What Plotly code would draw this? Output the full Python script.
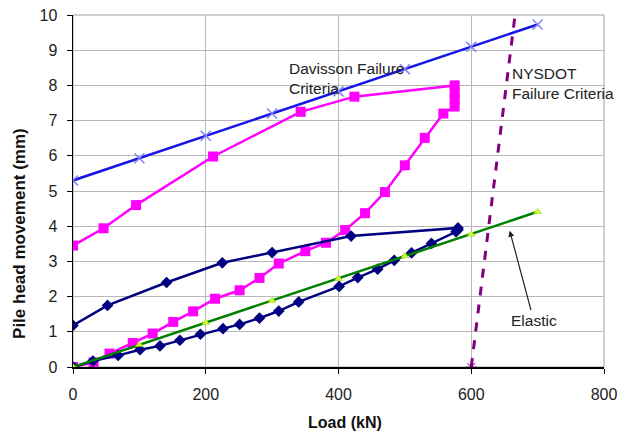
import plotly.graph_objects as go

# Davisson failure criteria
dav_x = [0, 100, 200, 300, 400, 500, 600, 700]
dav_y = [5.3, 5.93, 6.57, 7.2, 7.83, 8.46, 9.1, 9.73]

# Elastic line
ela_x = [0, 100, 200, 300, 400, 500, 600, 700]
ela_y = [0, 0.63, 1.26, 1.88, 2.51, 3.15, 3.77, 4.41]

# NYSDOT failure criteria
nys_x = [600, 666]
nys_y = [0, 10]

# Test 1 (magenta squares)
mag_x = [0, 31, 55, 90, 120, 151, 181, 214, 251, 281, 310, 350, 381, 410, 440, 470,
         500, 530, 558, 575, 575, 575, 575, 424, 343, 211, 95, 46, 0]
mag_y = [0, 0.13, 0.38, 0.68, 0.95, 1.28, 1.58, 1.94, 2.18, 2.53, 2.94, 3.29, 3.53,
         3.89, 4.37, 4.97, 5.73, 6.51, 7.2, 7.4, 7.6, 7.8, 8.0, 7.68, 7.25, 5.98,
         4.6, 3.94, 3.45]

# Test 2 (navy diamonds)
nav_x = [0, 30, 68, 101, 131, 161, 192, 226, 251, 281, 310, 340, 401, 429, 459, 484,
         510, 540, 577, 580, 580, 419, 300, 225, 141, 52, 0]
nav_y = [0, 0.17, 0.33, 0.49, 0.6, 0.76, 0.93, 1.09, 1.21, 1.39, 1.59, 1.85, 2.29,
         2.54, 2.78, 3.03, 3.24, 3.51, 3.84, 3.9, 3.95, 3.72, 3.25, 2.96, 2.4, 1.75, 1.18]

x_ticks = [0, 200, 400, 600, 800]
y_ticks = list(range(0, 11))

x_title = "Load (kN)"
y_title = "Pile head movement (mm)"

FONT = "Liberation Sans, Arial, sans-serif"
TXT = "#222222"

fig = go.Figure()

fig.add_trace(go.Scatter(x=dav_x, y=dav_y, mode="lines+markers",
                         line=dict(color="#1515e6", width=2.5),
                         marker=dict(symbol="x-thin", size=10,
                                     line=dict(color="#7f7fff", width=1.5))))
fig.add_trace(go.Scatter(x=mag_x, y=mag_y, mode="lines+markers",
                         line=dict(color="#ff00ff", width=2.5),
                         marker=dict(symbol="square", size=10, color="#ff00ff")))
fig.add_trace(go.Scatter(x=nav_x, y=nav_y, mode="lines+markers",
                         line=dict(color="#000080", width=2.5),
                         marker=dict(symbol="diamond", size=9, color="#000080")))
fig.add_trace(go.Scatter(x=ela_x, y=ela_y, mode="lines+markers",
                         line=dict(color="#008000", width=2.5),
                         marker=dict(symbol="triangle-up", size=7, color="#ccff33",
                                     line=dict(color="#99cc00", width=0.5))))
fig.add_trace(go.Scatter(x=nys_x, y=nys_y, mode="lines+markers",
                         line=dict(color="#800080", width=3, dash="dash"),
                         marker=dict(symbol="asterisk-open", size=[9, 0],
                                     line=dict(color="#800080", width=1.2))))

fig.add_annotation(x=322, y=8.2, xref="x", yref="y", text="Davisson Failure<br>Criteria",
                   showarrow=False, xanchor="left", yanchor="middle", align="left",
                   font=dict(family=FONT, size=15.5, color=TXT))
fig.add_annotation(x=658, y=8.05, xref="x", yref="y", text="NYSDOT<br>Failure Criteria",
                   showarrow=False, xanchor="left", yanchor="middle", align="left",
                   font=dict(family=FONT, size=15.5, color=TXT))
fig.add_annotation(x=658, y=3.87, xref="x", yref="y", text="Elastic",
                   showarrow=True, ax=694, ay=1.33, axref="x", ayref="y",
                   arrowhead=2, arrowsize=1, arrowwidth=1.2, arrowcolor=TXT,
                   standoff=0, font=dict(family=FONT, size=15.5, color=TXT))

# axis titles
fig.add_annotation(x=0.512, y=0, xref="paper", yref="paper", yshift=-55,
                   text="<b>" + x_title + "</b>", showarrow=False,
                   xanchor="center", yanchor="middle",
                   font=dict(family=FONT, size=16, color="#111111"))
fig.add_annotation(x=0, y=0.378, xref="paper", yref="paper", xshift=-53,
                   text="<b>" + y_title + "</b>", showarrow=False, textangle=-90,
                   xanchor="center", yanchor="middle",
                   font=dict(family=FONT, size=17, color="#111111"))

fig.update_layout(
    width=621, height=431,
    margin=dict(l=73, r=17, t=15, b=64),
    paper_bgcolor="white", plot_bgcolor="white",
    showlegend=False, hovermode=False,
    font=dict(family=FONT, size=16, color=TXT),
    xaxis=dict(range=[0, 800], tickvals=x_ticks, ticks="outside", ticklen=5,
               tickcolor="black", showline=True, linecolor="black", linewidth=1.5,
               showgrid=True, gridcolor="#b8b8b8", gridwidth=1, zeroline=False,
               automargin=False, ticklabelstandoff=7, ticklabeloverflow="allow",
               tickfont=dict(size=16, color=TXT)),
    yaxis=dict(range=[0, 10], tickvals=y_ticks, ticks="outside", ticklen=5,
               tickcolor="black", showline=True, linecolor="black", linewidth=1.5,
               showgrid=True, gridcolor="#b8b8b8", gridwidth=1, zeroline=False,
               automargin=False, ticklabelstandoff=6, ticklabeloverflow="allow",
               tickfont=dict(size=16, color=TXT)),
)

# plot area border on top/right (gray)
fig.add_shape(type="rect", xref="paper", yref="paper", x0=0, y0=0, x1=1, y1=1,
              line=dict(color="#a0a0a0", width=1), layer="below")

# remove the default 8px page margin so the figure fills the 621x431 window
fig.write_html("out.html",
               config={"displayModeBar": False, "staticPlot": True},
               post_script="document.body.style.margin='0px';"
                           "document.body.style.overflow='hidden';")
